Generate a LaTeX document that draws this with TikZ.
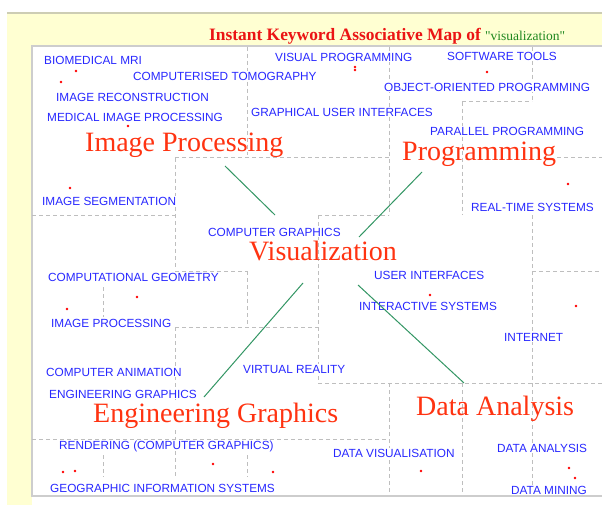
\documentclass[tikz,border=0pt]{standalone}
\usepackage{fontspec}
\setmainfont{Liberation Serif}
\setsansfont{Liberation Sans}
\usetikzlibrary{positioning}

\definecolor{paleyellow}{RGB}{255,255,210}
\definecolor{rimgray}{RGB}{205,205,180}
\definecolor{framegray}{RGB}{205,205,205}
\definecolor{cellgray}{RGB}{190,190,190}
\definecolor{kwblue}{RGB}{40,40,255}
\definecolor{topicred}{RGB}{255,51,17}
\definecolor{titlered}{RGB}{235,20,20}
\definecolor{titlegreen}{RGB}{30,135,30}
\definecolor{linkgreen}{RGB}{51,150,100}

\tikzset{
  keyword/.style={anchor=west, font=\sffamily\fontsize{11.8}{12}\selectfont,
    text=kwblue, fill=white, inner sep=1pt, text height=8.5pt, text depth=0pt},
  topic/.style={anchor=base west, font=\fontsize{28}{30}\selectfont,
    text=topicred, inner sep=0pt},
  cellline/.style={cellgray, line width=1pt, dash pattern=on 4pt off 3pt},
  link/.style={linkgreen, line width=1pt},
  hit/.style={fill=red}
}

\begin{document}
\begin{tikzpicture}[x=1pt,y=-1pt]
\useasboundingbox (0,0) rectangle (602,505);
\fill[white] (0,0) rectangle (602,505);
% frame
\fill[paleyellow] (7,14) rectangle (602,46);
\fill[paleyellow] (7,14) rectangle (32,505);
\draw[rimgray, line width=2pt] (7,13) -- (602,13);
\fill[white] (32,46) rectangle (602,496);
\draw[framegray, line width=2pt] (602,46) -- (32,46) -- (32,496) -- (602,496);

\node[anchor=base west, inner sep=0pt] (title) at (209,41)
  {\fontsize{17.4}{18}\selectfont\bfseries\color{titlered}Instant Keyword Associative Map of
   {\mdseries\fontsize{13.5}{14}\selectfont\color{titlegreen}\textquotedbl visualization\textquotedbl}};

% cells
\foreach \x/\ya/\yb in {247/47/155, 389/47/215, 532/47/102, 462/102/215,
    175/158/268, 318/215/383, 532/215/493, 247/271/327, 103/287/317,
    175/327/400, 175/430/477, 389/383/493, 462/383/493, 103/455/477, 247/455/477}
  \draw[cellline] (\x,\ya) -- (\x,\yb);
\foreach \y/\xa/\xb in {102/462/532, 158/175/389, 158/557/602, 215/32/175,
    215/318/389, 271/175/247, 271/532/602, 327/175/318, 383/318/602, 439/32/389}
  \draw[cellline] (\xa,\y) -- (\xb,\y);

% keywords
\node[keyword] (mri) at (43,60) {BIOMEDICAL MRI};
\node[keyword] (ct) at (132,76) {COMPUTERISED TOMOGRAPHY};
\node[keyword] (recon) at (55,97) {IMAGE RECONSTRUCTION};
\node[keyword] (medimg) at (46,117) {MEDICAL IMAGE PROCESSING};
\node[keyword] (segm) at (41,201) {IMAGE SEGMENTATION};
\node[keyword] (vprog) at (274,57) {VISUAL PROGRAMMING};
\node[keyword] (tools) at (446,56) {SOFTWARE TOOLS};
\node[keyword] (oop) at (383,87) {OBJECT-ORIENTED PROGRAMMING};
\node[keyword] (gui) at (250,112) {GRAPHICAL USER INTERFACES};
\node[keyword] (para) at (429,131) {PARALLEL PROGRAMMING};
\node[keyword] (rts) at (470,207) {REAL-TIME SYSTEMS};
\node[keyword] (cg) at (207,232) {COMPUTER GRAPHICS};
\node[keyword] (geom) at (47,277) {COMPUTATIONAL GEOMETRY};
\node[keyword] (improc) at (50,323) {IMAGE PROCESSING};
\node[keyword] (ui) at (373,275) {USER INTERFACES};
\node[keyword] (inter) at (358,306) {INTERACTIVE SYSTEMS};
\node[keyword] (net) at (503,337) {INTERNET};
\node[keyword] (anim) at (45,372) {COMPUTER ANIMATION};
\node[keyword] (enggfx) at (48,394) {ENGINEERING GRAPHICS};
\node[keyword] (vr) at (242,369) {VIRTUAL REALITY};
\node[keyword] (render) at (58,445) {RENDERING (COMPUTER GRAPHICS)};
\node[keyword] (gis) at (49,488) {GEOGRAPHIC INFORMATION SYSTEMS};
\node[keyword] (dvis) at (332,453) {DATA VISUALISATION};
\node[keyword] (dana) at (496,448) {DATA ANALYSIS};
\node[keyword] (dmin) at (510,490) {DATA MINING};

% topics
\node[topic] (ipro) at (85,152) {Image Processing};
\node[topic] (prog) at (402,161) {Programming};
\node[topic] (visu) at (249,260) {Visualization};
\node[topic] (engg) at (93,422) {Engineering Graphics};
\node[topic] (data) at (416,415) {Data Analysis};

% hits
\foreach \p in {(76,71),(61,82),(128,126),(70,188),(355,67),(355,70),(487,72),
    (568,184),(137,297),(67,309),(430,295),(576,306),(63,472),(75,471),
    (213,464),(273,472),(421,471),(569,468),(575,478)}
  \fill[hit] \p circle (1.3);

% links
\coordinate (ipro-end) at (225,166);
\coordinate (visu-ipro) at (275,215);
\coordinate (prog-end) at (422,172);
\coordinate (visu-prog) at (359,237);
\coordinate (visu-engg) at (303,283);
\coordinate (engg-end) at (204,397);
\coordinate (visu-data) at (358,285);
\coordinate (data-end) at (464,383);
\draw[link] (ipro-end) -- (visu-ipro);
\draw[link] (prog-end) -- (visu-prog);
\draw[link] (visu-engg) -- (engg-end);
\draw[link] (visu-data) -- (data-end);
\end{tikzpicture}
\end{document}
